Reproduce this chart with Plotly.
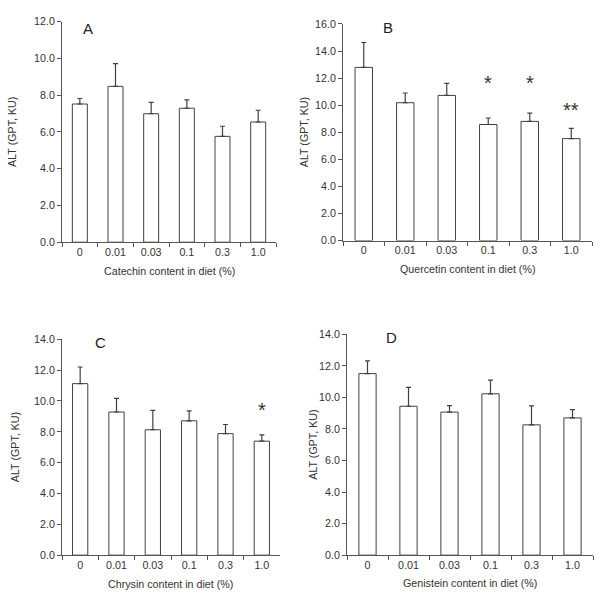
import plotly.graph_objects as go

W, H = 606, 602

doses = ["0", "0.01", "0.03", "0.1", "0.3", "1.0"]

catechin_mean = [7.52, 8.48, 6.99, 7.29, 5.76, 6.54]
catechin_sd = [0.30, 1.24, 0.62, 0.46, 0.55, 0.64]

quercetin_mean = [12.79, 10.18, 10.72, 8.57, 8.80, 7.53]
quercetin_sd = [1.84, 0.72, 0.89, 0.48, 0.61, 0.75]

chrysin_mean = [11.12, 9.28, 8.13, 8.71, 7.88, 7.39]
chrysin_sd = [1.08, 0.89, 1.25, 0.65, 0.59, 0.41]

genistein_mean = [11.51, 9.44, 9.07, 10.23, 8.26, 8.70]
genistein_sd = [0.81, 1.20, 0.41, 0.87, 1.20, 0.53]

panel_letters = ["A", "B", "C", "D"]
x_titles = ["Catechin content in diet (%)", "Quercetin content in diet (%)",
            "Chrysin content in diet (%)", "Genistein content in diet (%)"]
y_title = "ALT (GPT, KU)"
y_max = [12, 16, 14, 14]

# significance marks: (panel index, dose, y value, text)
sig_marks = [
    (1, "0.1", 11.6, "*"),
    (1, "0.3", 11.6, "*"),
    (1, "1.0", 9.65, "**"),
    (2, "1.0", 9.4, "*"),
]

means = [catechin_mean, quercetin_mean, chrysin_mean, genistein_mean]
sds = [catechin_sd, quercetin_sd, chrysin_sd, genistein_sd]

# pixel boxes for each panel: (x0, x1, ytop, ybottom)
boxes = [
    (62, 276, 16, 241),
    (343, 592, 18.3, 239.3),
    (62, 280, 340, 560.3),
    (347, 593, 335, 560.3),
]
ytitle_x = [12, 304, 15, 313]
xtitle_y = [270, 268, 590, 589]
letter_pos = [(88, 23), (388, 22), (100, 343), (391, 338)]

FONT = "Liberation Sans, Arial, sans-serif"
TXT = "#333333"
LINE = "#555555"
FS = 10.7

fig = go.Figure()
layout = dict(
    width=W, height=H, margin=dict(l=0, r=0, t=0, b=0),
    paper_bgcolor="white", plot_bgcolor="white", showlegend=False,
    font=dict(family=FONT, size=FS, color=TXT),
)
annotations = []

for i in range(4):
    sfx = "" if i == 0 else str(i + 1)
    x0, x1, yt, yb = boxes[i]
    fig.add_trace(go.Bar(
        x=doses, y=means[i],
        xaxis="x" + sfx, yaxis="y" + sfx,
        marker=dict(color="white", line=dict(color="#404040", width=1)),
        error_y=dict(type="data", symmetric=False, array=sds[i],
                     arrayminus=[0] * len(doses), color="#404040",
                     thickness=1.2, width=2.5),
        width=0.42,
    ))
    layout["xaxis" + sfx] = dict(
        domain=[x0 / W, x1 / W], anchor="y" + sfx, type="category",
        showline=True, linecolor=LINE, linewidth=1,
        ticks="outside", tickson="boundaries", ticklen=4, tickcolor=LINE,
        showgrid=False, zeroline=False, range=[-0.5, 5.5],
        tickfont=dict(size=FS, color=TXT, family=FONT),
    )
    layout["yaxis" + sfx] = dict(
        domain=[1 - yb / H, 1 - yt / H], anchor="x" + sfx,
        range=[0, y_max[i]], dtick=2, tickformat=".1f",
        showline=True, linecolor=LINE, linewidth=1,
        ticks="outside", ticklen=4, tickcolor=LINE,
        showgrid=False, zeroline=False,
        tickfont=dict(size=FS, color=TXT, family=FONT),
    )
    annotations.append(dict(
        text=y_title, xref="paper", yref="paper",
        x=ytitle_x[i] / W, y=1 - ((yt + yb) / 2) / H,
        textangle=-90, showarrow=False, xanchor="center", yanchor="middle",
        font=dict(size=FS, color=TXT, family=FONT),
    ))
    annotations.append(dict(
        text=x_titles[i], xref="paper", yref="paper",
        x=((x0 + x1) / 2) / W, y=1 - xtitle_y[i] / H,
        showarrow=False, xanchor="center", yanchor="middle",
        font=dict(size=FS, color=TXT, family=FONT),
    ))
    lx, ly = letter_pos[i]
    annotations.append(dict(
        text=panel_letters[i], xref="paper", yref="paper",
        x=lx / W, y=1 - ly / H, showarrow=False,
        xanchor="center", yanchor="middle",
        font=dict(size=15, color="#222222", family=FONT),
    ))

for (pi, dose, yv, txt) in sig_marks:
    sfx = "" if pi == 0 else str(pi + 1)
    annotations.append(dict(
        text=txt, x=doses.index(dose), y=yv, xref="x" + sfx, yref="y" + sfx,
        showarrow=False, xanchor="center", yanchor="middle",
        font=dict(size=20, color="#333333", family=FONT),
    ))

layout["annotations"] = annotations
fig.update_layout(**layout)
fig.write_html("out.html")
